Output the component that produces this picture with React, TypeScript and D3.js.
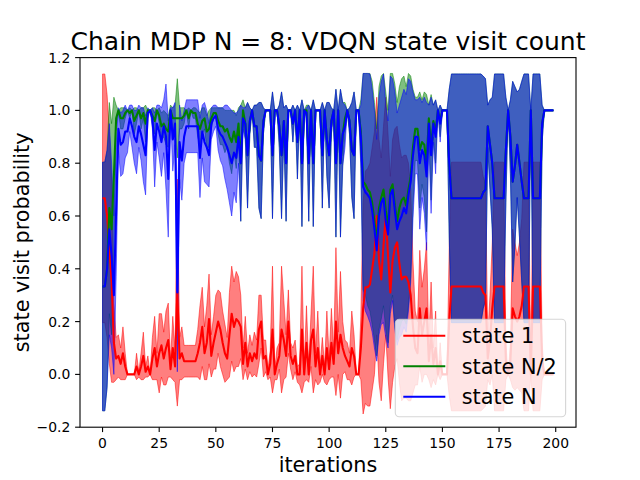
import * as d3 from 'd3'

// mean and std over seeds, one value per iteration (0..199)
const state1Mean = [
  0.667, 0.667, 0.6, 0.48, 0.35, 0.12, 0.06, 0.07, 0.04, 0.08,
  0.03, 0.0, 0.0, 0.0, 0.0, 0.03, 0.0, 0.03, 0.07, 0.01,
  0.03, 0.0, 0.06, 0.1, 0.03, 0.08, 0.11, 0.06, 0.1, 0.13,
  0.02, 0.1, 0.03, 0.31, 0.06, 0.08, 0.05, 0.05, 0.05, 0.05,
  0.05, 0.05, 0.08, 0.12, 0.18, 0.08, 0.12, 0.21, 0.07, 0.12,
  0.16, 0.2, 0.17, 0.12, 0.08, 0.06, 0.15, 0.23, 0.18, 0.21,
  0.2, 0.18, 0.04, 0.12, 0.03, 0.08, 0.05, 0.08, 0.06, 0.17,
  0.2, 0.06, 0.07, 0.0, 0.04, 0.17, 0.0, 0.04, 0.07, 0.17,
  0.13, 0.07, 0.2, 0.07, 0.04, 0.07, 0.0, 0.0, 0.17, 0.0,
  0.12, 0.0, 0.13, 0.17, 0.03, 0.1, 0.0, 0.07, 0.0, 0.1,
  0.02, 0.12, 0.04, 0.2, 0.08, 0.15, 0.1, 0.07, 0.05, 0.03,
  0.1, 0.07, 0.0, 0.0, 0.1, 0.25, 0.33, 0.33, 0.34, 0.4,
  0.46, 0.6, 0.43, 0.36, 0.49, 0.6, 0.45, 0.31, 0.43, 0.48,
  0.5, 0.42, 0.36, 0.37, 0.37, 0.35, 0.3, 0.18, 0.1, 0.08,
  0.25, 0.15, 0.2, 0.25, 0.05, 0.15, 0.04, 0.1, 0.0, 0.05,
  0.0, 0.0, 0.0, 0.2, 0.333, 0.333, 0.333, 0.333, 0.333, 0.333,
  0.333, 0.333, 0.333, 0.333, 0.333, 0.333, 0.333, 0.333, 0.31, 0.3,
  0.06, 0.13, 0.25, 0.333, 0.333, 0.333, 0.333, 0.333, 0.05, 0.0,
  0.05, 0.25, 0.22, 0.2, 0.22, 0.26, 0.333, 0.333, 0.333, 0.0,
  0.333, 0.333, 0.333, 0.333, 0.05, 0.0, 0.0, 0.0, 0.0, 0.0,
]
const state1Std = [
  0.471, 0.471, 0.46, 0.44, 0.38, 0.15, 0.08, 0.08, 0.06, 0.1,
  0.05, 0.0, 0.0, 0.0, 0.0, 0.05, 0.01, 0.05, 0.09, 0.02,
  0.04, 0.0, 0.08, 0.12, 0.05, 0.15, 0.12, 0.1, 0.14, 0.14,
  0.03, 0.12, 0.06, 0.43, 0.08, 0.1, 0.06, 0.06, 0.06, 0.06,
  0.06, 0.06, 0.09, 0.14, 0.15, 0.1, 0.14, 0.17, 0.08, 0.1,
  0.14, 0.12, 0.14, 0.12, 0.11, 0.08, 0.16, 0.18, 0.17, 0.18,
  0.17, 0.12, 0.06, 0.1, 0.05, 0.07, 0.06, 0.08, 0.07, 0.13,
  0.1, 0.07, 0.06, 0.02, 0.05, 0.24, 0.02, 0.06, 0.05, 0.24,
  0.15, 0.08, 0.12, 0.05, 0.06, 0.06, 0.03, 0.04, 0.24, 0.03,
  0.14, 0.03, 0.1, 0.24, 0.05, 0.14, 0.03, 0.07, 0.03, 0.14,
  0.04, 0.13, 0.05, 0.28, 0.08, 0.24, 0.1, 0.06, 0.07, 0.05,
  0.14, 0.08, 0.0, 0.0, 0.12, 0.4, 0.44, 0.45, 0.46, 0.46,
  0.46, 0.45, 0.46, 0.46, 0.45, 0.45, 0.46, 0.44, 0.46, 0.45,
  0.44, 0.45, 0.46, 0.46, 0.46, 0.45, 0.4, 0.25, 0.14, 0.12,
  0.22, 0.18, 0.2, 0.25, 0.07, 0.2, 0.06, 0.14, 0.0, 0.07,
  0.0, 0.0, 0.0, 0.28, 0.471, 0.471, 0.471, 0.471, 0.471, 0.471,
  0.471, 0.471, 0.471, 0.471, 0.471, 0.471, 0.471, 0.471, 0.44, 0.42,
  0.08, 0.17, 0.25, 0.471, 0.471, 0.471, 0.471, 0.471, 0.07, 0.0,
  0.07, 0.3, 0.28, 0.25, 0.28, 0.33, 0.471, 0.471, 0.471, 0.0,
  0.471, 0.471, 0.471, 0.471, 0.07, 0.0, 0.0, 0.0, 0.0, 0.0,
]

const stateHalfMean = [
  0.333, 0.333, 0.4, 0.63, 0.55, 0.75, 0.97, 1.0, 0.97, 0.97,
  0.99, 1.0, 0.99, 1.0, 0.96, 0.98, 1.0, 0.97, 0.99, 0.95,
  1.0, 1.0, 0.98, 0.96, 1.0, 0.98, 0.94, 0.95, 0.93, 0.92,
  1.0, 0.97, 0.97, 0.97, 0.97, 0.97, 0.98, 1.0, 0.97, 1.0,
  0.99, 0.99, 0.95, 0.93, 0.96, 0.97, 0.92, 0.93, 0.97, 0.99,
  0.99, 0.96, 0.94, 0.94, 0.92, 0.93, 0.9, 0.88, 0.92, 0.88,
  0.95, 0.8, 1.0, 0.95, 0.83, 0.96, 1.0, 0.94, 0.94, 0.83,
  0.81, 0.96, 1.0, 1.0, 1.0, 0.83, 1.0, 1.0, 0.94, 0.83,
  0.96, 0.8, 1.0, 1.0, 0.95, 1.0, 0.88, 1.0, 0.8, 1.0,
  1.0, 0.8, 1.0, 0.8, 1.0, 1.0, 1.0, 0.83, 1.0, 0.89,
  0.83, 0.96, 1.0, 0.8, 1.0, 0.8, 0.91, 0.97, 1.0, 0.96,
  0.85, 0.83, 1.0, 1.0, 0.92, 0.73, 0.72, 0.7, 0.69, 0.65,
  0.58, 0.5, 0.63, 0.67, 0.7, 0.62, 0.56, 0.7, 0.72, 0.64,
  0.58, 0.63, 0.66, 0.67, 0.64, 0.7, 0.75, 0.86, 0.93, 0.93,
  0.85, 0.88, 0.87, 0.8, 0.97, 0.86, 0.96, 0.92, 1.0, 0.96,
  1.0, 1.0, 1.0, 0.8, 0.667, 0.667, 0.667, 0.667, 0.667, 0.667,
  0.667, 0.667, 0.667, 0.667, 0.667, 0.667, 0.667, 0.667, 0.69, 0.7,
  0.94, 0.87, 0.8, 0.667, 0.667, 0.667, 0.667, 0.667, 0.85, 1.0,
  0.9, 0.73, 0.79, 0.87, 0.8, 0.73, 0.667, 0.667, 0.667, 1.0,
  0.667, 0.667, 0.667, 0.667, 0.95, 1.0, 1.0, 1.0, 1.0, 1.0,
]
const stateHalfStd = [
  0.471, 0.471, 0.45, 0.4, 0.4, 0.3, 0.05, 0.0, 0.04, 0.04,
  0.02, 0.0, 0.02, 0.0, 0.05, 0.03, 0.0, 0.04, 0.02, 0.07,
  0.0, 0.0, 0.03, 0.05, 0.0, 0.03, 0.05, 0.05, 0.06, 0.06,
  0.02, 0.04, 0.05, 0.15, 0.04, 0.04, 0.03, 0.0, 0.04, 0.0,
  0.02, 0.02, 0.05, 0.06, 0.05, 0.04, 0.06, 0.07, 0.04, 0.02,
  0.02, 0.05, 0.07, 0.07, 0.08, 0.07, 0.1, 0.12, 0.08, 0.1,
  0.06, 0.22, 0.04, 0.06, 0.2, 0.05, 0.0, 0.08, 0.08, 0.2,
  0.22, 0.05, 0.0, 0.0, 0.0, 0.24, 0.0, 0.0, 0.08, 0.24,
  0.05, 0.22, 0.0, 0.0, 0.07, 0.0, 0.14, 0.0, 0.24, 0.0,
  0.02, 0.22, 0.0, 0.24, 0.0, 0.0, 0.0, 0.2, 0.0, 0.14,
  0.2, 0.05, 0.0, 0.28, 0.0, 0.28, 0.12, 0.06, 0.0, 0.05,
  0.18, 0.24, 0.0, 0.0, 0.12, 0.41, 0.42, 0.44, 0.45, 0.46,
  0.45, 0.43, 0.46, 0.46, 0.44, 0.45, 0.44, 0.44, 0.42, 0.46,
  0.45, 0.46, 0.46, 0.46, 0.45, 0.44, 0.38, 0.22, 0.12, 0.12,
  0.22, 0.16, 0.2, 0.26, 0.05, 0.2, 0.06, 0.12, 0.0, 0.06,
  0.0, 0.0, 0.0, 0.28, 0.471, 0.471, 0.471, 0.471, 0.471, 0.471,
  0.471, 0.471, 0.471, 0.471, 0.471, 0.471, 0.471, 0.471, 0.44, 0.42,
  0.08, 0.17, 0.25, 0.471, 0.471, 0.471, 0.471, 0.471, 0.2, 0.0,
  0.14, 0.38, 0.3, 0.2, 0.28, 0.38, 0.471, 0.471, 0.471, 0.0,
  0.471, 0.471, 0.471, 0.471, 0.07, 0.0, 0.0, 0.0, 0.0, 0.0,
]

const stateNMean = [
  0.333, 0.333, 0.4, 0.55, 0.45, 0.3, 0.62, 0.93, 0.87, 0.88,
  0.92, 0.92, 0.97, 0.94, 0.9, 0.88, 0.94, 0.91, 0.87, 0.83,
  0.99, 1.0, 0.97, 0.85, 0.95, 0.92, 0.88, 0.94, 0.9, 0.74,
  1.0, 0.89, 0.95, 0.31, 0.88, 0.81, 0.9, 0.94, 0.94, 0.94,
  0.94, 0.94, 0.94, 0.82, 0.92, 0.88, 0.86, 0.83, 0.95, 0.97,
  0.98, 0.93, 0.91, 0.9, 0.88, 0.86, 0.83, 0.8, 0.84, 0.82,
  0.9, 0.8, 0.97, 0.95, 0.83, 0.96, 1.0, 0.94, 0.94, 0.83,
  0.81, 0.96, 1.0, 1.0, 1.0, 0.83, 1.0, 1.0, 0.94, 0.83,
  0.96, 0.8, 1.0, 1.0, 0.95, 1.0, 0.88, 1.0, 0.8, 1.0,
  0.99, 0.8, 1.0, 0.8, 1.0, 1.0, 1.0, 0.83, 1.0, 0.89,
  0.83, 0.96, 1.0, 0.8, 1.0, 0.8, 0.91, 0.94, 1.0, 0.96,
  0.85, 0.83, 1.0, 1.0, 0.9, 0.71, 0.69, 0.68, 0.667, 0.62,
  0.55, 0.47, 0.6, 0.65, 0.667, 0.58, 0.53, 0.68, 0.7, 0.62,
  0.55, 0.58, 0.6, 0.63, 0.61, 0.68, 0.73, 0.83, 0.9, 0.9,
  0.8, 0.85, 0.83, 0.75, 0.95, 0.83, 0.95, 0.9, 1.0, 0.95,
  1.0, 1.0, 1.0, 0.8, 0.667, 0.667, 0.667, 0.667, 0.667, 0.667,
  0.667, 0.667, 0.667, 0.667, 0.667, 0.667, 0.667, 0.667, 0.69, 0.7,
  0.94, 0.87, 0.8, 0.667, 0.667, 0.667, 0.667, 0.667, 0.85, 1.0,
  0.9, 0.73, 0.79, 0.87, 0.8, 0.73, 0.667, 0.667, 0.667, 1.0,
  0.667, 0.667, 0.667, 0.667, 0.95, 1.0, 1.0, 1.0, 1.0, 1.0,
]
const stateNStd = [
  0.471, 0.471, 0.45, 0.4, 0.35, 0.3, 0.25, 0.08, 0.12, 0.12,
  0.1, 0.08, 0.05, 0.08, 0.1, 0.12, 0.08, 0.1, 0.14, 0.15,
  0.02, 0.0, 0.04, 0.14, 0.07, 0.1, 0.13, 0.1, 0.2, 0.22,
  0.01, 0.12, 0.08, 0.3, 0.14, 0.15, 0.1, 0.1, 0.1, 0.1,
  0.1, 0.1, 0.1, 0.15, 0.1, 0.15, 0.14, 0.12, 0.06, 0.05,
  0.04, 0.08, 0.1, 0.11, 0.14, 0.16, 0.18, 0.2, 0.15, 0.17,
  0.1, 0.22, 0.04, 0.06, 0.2, 0.05, 0.0, 0.08, 0.08, 0.2,
  0.22, 0.05, 0.0, 0.0, 0.0, 0.24, 0.0, 0.0, 0.08, 0.24,
  0.05, 0.22, 0.0, 0.0, 0.07, 0.0, 0.14, 0.0, 0.24, 0.0,
  0.02, 0.22, 0.0, 0.24, 0.0, 0.0, 0.0, 0.2, 0.0, 0.14,
  0.2, 0.05, 0.0, 0.28, 0.0, 0.28, 0.12, 0.08, 0.0, 0.05,
  0.18, 0.24, 0.0, 0.0, 0.12, 0.43, 0.45, 0.46, 0.471, 0.46,
  0.45, 0.42, 0.45, 0.46, 0.471, 0.44, 0.43, 0.45, 0.42, 0.45,
  0.44, 0.44, 0.45, 0.45, 0.45, 0.44, 0.38, 0.24, 0.14, 0.14,
  0.25, 0.18, 0.22, 0.28, 0.07, 0.22, 0.07, 0.14, 0.0, 0.07,
  0.0, 0.0, 0.0, 0.28, 0.471, 0.471, 0.471, 0.471, 0.471, 0.471,
  0.471, 0.471, 0.471, 0.471, 0.471, 0.471, 0.471, 0.471, 0.44, 0.42,
  0.08, 0.17, 0.25, 0.471, 0.471, 0.471, 0.471, 0.471, 0.2, 0.0,
  0.14, 0.38, 0.3, 0.2, 0.28, 0.38, 0.471, 0.471, 0.471, 0.0,
  0.471, 0.471, 0.471, 0.471, 0.07, 0.0, 0.0, 0.0, 0.0, 0.0,
]

const xTicks = [0, 25, 50, 75, 100, 125, 150, 175, 200]
const yTicks = [-0.2, 0, 0.2, 0.4, 0.6, 0.8, 1.0, 1.2]

const series = [
  { label: 'state 1', color: '#ff0000', mean: state1Mean, std: state1Std },
  { label: 'state N/2', color: '#008000', mean: stateHalfMean, std: stateHalfStd },
  { label: 'state N', color: '#0000ff', mean: stateNMean, std: stateNStd },
]

const font = '"DejaVu Sans", sans-serif'

const App = () => {
  // axes box like matplotlib's default subplot
  const left = 80
  const right = 576
  const top = 57.6
  const bottom = 427.2
  const n = stateNMean.length
  const pad = (n - 1) * 0.05

  const x = d3.scaleLinear().domain([-pad, n - 1 + pad]).range([left, right])
  const y = d3.scaleLinear().domain([-0.2, 1.2]).range([bottom, top])

  const band = (m: number[], s: number[]) =>
    d3
      .area<number>()
      .x((_, i) => x(i))
      .y0((v, i) => y(v - s[i]))
      .y1((v, i) => y(v + s[i]))(m) || ''

  const line = (m: number[]) =>
    d3
      .line<number>()
      .x((_, i) => x(i))
      .y(v => y(v))(m) || ''

  const fmtY = (v: number) => (v < 0 ? '\u2212' : '') + Math.abs(v).toFixed(1)

  // legend box (lower right)
  const lgW = 170.3
  const lgH = 97.5
  const lgX = right - 10.4 - lgW
  const lgY = bottom - 10.4 - lgH

  return (
    <svg
      width={640}
      height={480}
      style={{ position: 'absolute', left: 0, top: 0, background: '#fff' }}
      fontFamily={font}
    >
      <defs>
        <clipPath id='plot'>
          <rect x={left} y={top} width={right - left} height={bottom - top} />
        </clipPath>
      </defs>

      <g clipPath='url(#plot)'>
        {series.map(s => (
          <path
            key={'b' + s.label}
            d={band(s.mean, s.std)}
            fill={s.color}
            fillOpacity={0.5}
            stroke={s.color}
            strokeOpacity={0.5}
            strokeWidth={1}
          />
        ))}
        {series.map(s => (
          <path
            key={'l' + s.label}
            d={line(s.mean)}
            fill='none'
            stroke={s.color}
            strokeWidth={2.08}
            strokeLinejoin='round'
          />
        ))}
      </g>

      {/* spines */}
      <rect
        x={left}
        y={top}
        width={right - left}
        height={bottom - top}
        fill='none'
        stroke='#000'
        strokeWidth={1.1}
      />

      {xTicks.map(t => (
        <g key={'x' + t}>
          <line x1={x(t)} x2={x(t)} y1={bottom} y2={bottom + 4.9} stroke='#000' strokeWidth={1.1} />
          <text x={x(t)} y={447.6} fontSize={13.9} textAnchor='middle'>
            {t}
          </text>
        </g>
      ))}
      {yTicks.map(t => (
        <g key={'y' + t}>
          <line x1={left - 4.9} x2={left} y1={y(t)} y2={y(t)} stroke='#000' strokeWidth={1.1} />
          <text x={70.3} y={y(t) + 5} fontSize={13.9} textAnchor='end'>
            {fmtY(t)}
          </text>
        </g>
      ))}

      <text x={(left + right) / 2} y={472} fontSize={20.8} textAnchor='middle'>
        iterations
      </text>
      <text
        transform={`translate(28.6, ${(top + bottom) / 2}) rotate(-90)`}
        fontSize={20.8}
        textAnchor='middle'
      >
        state visit probability
      </text>
      <text x={(left + right) / 2} y={49.5} fontSize={25} textAnchor='middle'>
        Chain MDP N = 8: VDQN state visit count
      </text>

      <g>
        <rect
          x={lgX}
          y={lgY}
          width={lgW}
          height={lgH}
          rx={4}
          fill='#fff'
          fillOpacity={0.8}
          stroke='#ccc'
          strokeOpacity={0.8}
          strokeWidth={1.1}
        />
        {series.map((s, i) => {
          const cy = lgY + 16.4 + i * 30.5
          return (
            <g key={'lg' + s.label}>
              <line x1={lgX + 8} x2={lgX + 50} y1={cy} y2={cy} stroke={s.color} strokeWidth={2.08} />
              <text x={lgX + 66.4} y={cy + 7.5} fontSize={20.8}>
                {s.label}
              </text>
            </g>
          )
        })}
      </g>
    </svg>
  )
}

export default App
